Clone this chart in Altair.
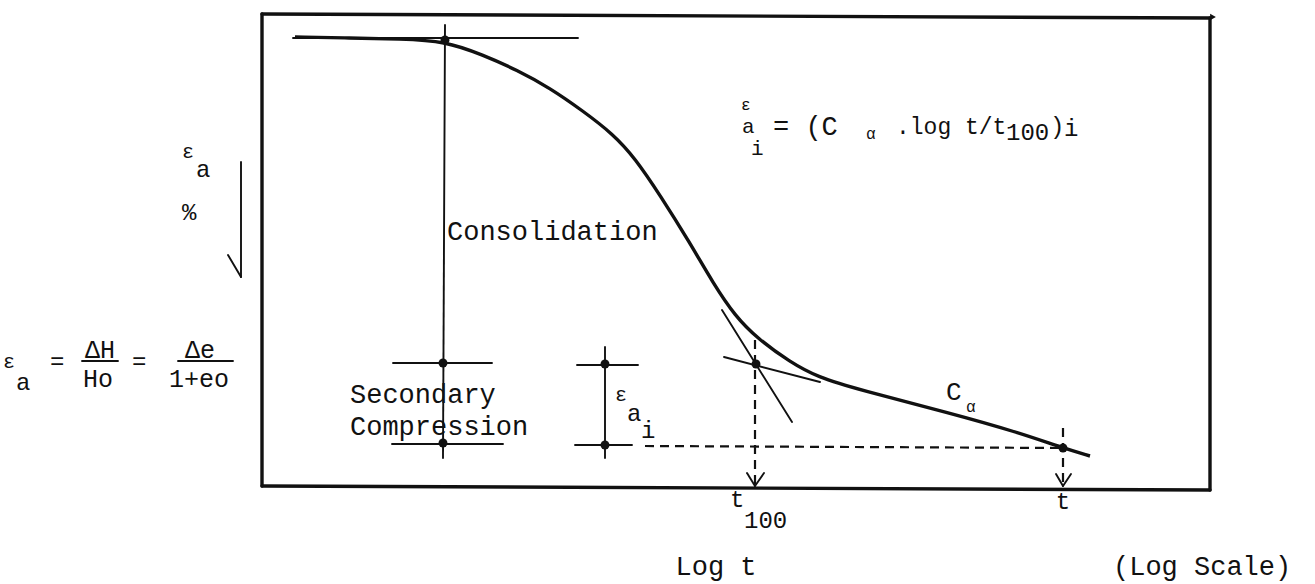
import altair as alt
import pandas as pd

W, H = 1315, 584

# Consolidation curve (log t horizontally, strain increasing downward)
curve_x = [295, 350, 400, 445, 483, 517, 550, 583, 613, 635, 660, 690, 713,
           735, 758, 790, 817, 860, 950, 1017, 1063, 1090]
curve_y = [37, 38, 39, 41, 55, 70, 88, 111, 134, 158, 195, 243, 283,
           316, 339, 362, 377, 390, 413, 432, 448, 456]

# Frame of the plot (heavy lines)
frame_segs = [
    (262, 14, 1210, 18),
    (262, 14, 262, 486),
    (262, 486, 1210, 490),
    (1210, 18, 1210, 490),
]

# Construction lines (thin)
guide_segs = [
    (293, 38, 578, 38),      # initial tangent
    (445, 25, 443, 458),     # consolidation span
    (393, 363, 492, 363),    # end of primary
    (392, 444, 503, 444),    # end of secondary
    (605, 347, 605, 458),    # eps_ai bracket
    (577, 365, 638, 365),
    (575, 445, 632, 445),
    (722, 310, 792, 422),    # steep tangent
    (724, 357, 820, 382),    # secondary tangent
    (241, 162, 241, 277),    # strain direction arrow
    (228, 255, 241, 277),
    (747, 473, 755, 486),    # arrow to t100
    (755, 486, 764, 473),
    (1056, 474, 1063, 486),  # arrow to t
    (1063, 486, 1071, 474),
    (82, 361, 118, 361),     # fraction bars
    (178, 361, 233, 361),
]

# Dashed projection lines
dash_segs = [
    (645, 446, 1063, 448),
    (755, 340, 755, 486),
    (1063, 428, 1063, 486),
]

# Marked points
dot_x = [445, 443, 443, 605, 605, 756, 1063]
dot_y = [40, 363, 443, 364, 445, 364, 448]

# Labels: x, y, text, font size, alignment
labels = [
    (182, 152, "ε", 20, "left"),
    (196, 170, "a", 24, "left"),
    (182, 213, "%", 24, "left"),
    (3, 362, "ε", 20, "left"),
    (16, 383, "a", 24, "left"),
    (50, 362, "=", 24, "left"),
    (100, 350, "ΔH", 25, "center"),
    (98, 379, "Ho", 25, "center"),
    (132, 362, "=", 24, "left"),
    (200, 350, "Δe", 25, "center"),
    (199, 379, "1+eo", 25, "center"),
    (447, 232, "Consolidation", 27, "left"),
    (350, 395, "Secondary", 27, "left"),
    (350, 427, "Compression", 27, "left"),
    (615, 395, "ε", 20, "left"),
    (627, 414, "a", 24, "left"),
    (641, 431, "i", 24, "left"),
    (946, 392, "C", 26, "left"),
    (966, 407, "α", 16, "left"),
    (741, 105, "ε", 16, "left"),
    (742, 127, "a", 21, "left"),
    (751, 149, "i", 21, "left"),
    (773, 127, "= (C", 27, "left"),
    (866, 134, "α", 16, "left"),
    (896, 127, ".log t/t", 23, "left"),
    (1006, 133, "100", 24, "left"),
    (1050, 127, ")", 24, "left"),
    (1064, 129, "i", 24, "left"),
    (730, 500, "t", 24, "left"),
    (744, 521, "100", 24, "left"),
    (1063, 502, "t", 24, "center"),
    (716, 567, "Log t", 27, "center"),
    (1113, 567, "(Log Scale)", 27, "left"),
]

FONT = "Liberation Mono"
INK = "#111111"

xs = alt.Scale(domain=[0, W], nice=False, zero=False)
ys = alt.Scale(domain=[0, H], nice=False, zero=False, reverse=True)
X = alt.X("x:Q", scale=xs, axis=None)
Y = alt.Y("y:Q", scale=ys, axis=None)


def rules(segs, width, dash=None):
    kw = dict(color=INK, strokeWidth=width, strokeCap="round")
    if dash:
        kw["strokeDash"] = dash
        kw["strokeCap"] = "butt"
    df = pd.DataFrame(segs, columns=["x", "y", "x2", "y2"])
    return alt.Chart(df).mark_rule(**kw).encode(x=X, y=Y, x2="x2:Q", y2="y2:Q")


curve = alt.Chart(pd.DataFrame({"x": curve_x, "y": curve_y})).mark_line(
    color=INK, strokeWidth=3.4, interpolate="basis"
).encode(x=X, y=Y, order="x:Q")

dots = alt.Chart(pd.DataFrame({"x": dot_x, "y": dot_y})).mark_circle(
    color=INK, opacity=1, size=80
).encode(x=X, y=Y)

# small arrow tip at the end of the time axis line
tip = alt.Chart(pd.DataFrame({"x": [1213], "y": [17]})).mark_point(
    shape="triangle-right", filled=True, color=INK, opacity=1, size=45
).encode(x=X, y=Y)

lab_df = pd.DataFrame(labels, columns=["x", "y", "text", "size", "align"])


def text_layer(align):
    d = lab_df[lab_df["align"] == align]
    return alt.Chart(d).mark_text(
        font=FONT, color=INK, align=align, baseline="middle"
    ).encode(
        x=X, y=Y, text="text:N",
        size=alt.Size("size:Q", scale=None, legend=None),
    )


chart = alt.layer(
    rules(frame_segs, 3.4),
    rules(guide_segs, 1.9),
    rules(dash_segs, 2.2, dash=[9, 6]),
    curve,
    dots,
    tip,
    text_layer("left"),
    text_layer("center"),
).properties(
    width=W, height=H, padding=0,
    autosize=alt.AutoSizeParams(type="none"),
    background="white",
).configure_view(stroke=None)

chart.save("out.html", embed_options={"renderer": "svg", "actions": False})
